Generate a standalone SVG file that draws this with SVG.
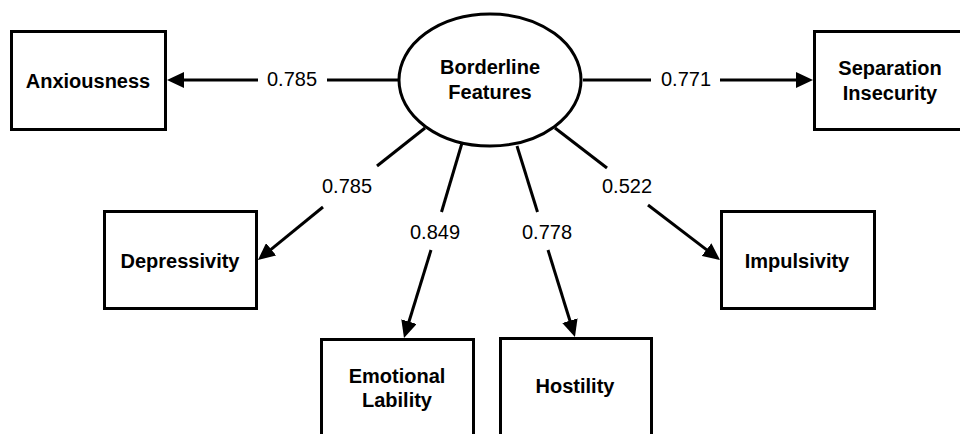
<svg xmlns="http://www.w3.org/2000/svg" width="960" height="434" viewBox="0 0 960 434">
<defs>
<style>
.box{fill:#fff;stroke:#000;stroke-width:3}
.lat{fill:#fff;stroke:#000;stroke-width:3}
.node{font-family:"Liberation Sans",Arial,sans-serif;font-weight:bold;font-size:20px;fill:#000;text-anchor:middle}
.lbl{font-family:"Liberation Sans",Arial,sans-serif;font-size:20px;fill:#000;text-anchor:middle}
.ln{stroke:#000;stroke-width:3;fill:none}
.arr{marker-end:url(#ah)}
</style>
<marker id="ah" markerUnits="userSpaceOnUse" markerWidth="17" markerHeight="16" refX="4" refY="8" orient="auto">
<path d="M0,0 L17,8 L0,16 z" fill="#000"/>
</marker>
</defs>
<rect width="960" height="434" fill="#fff"/>
<g id="connectors">
<line class="ln" x1="398" y1="80" x2="327" y2="80"/>
<line class="ln arr" x1="258" y1="80" x2="180" y2="80"/>
<line class="ln" x1="583" y1="80" x2="651" y2="80"/>
<line class="ln arr" x1="720" y1="80" x2="800" y2="80"/>
<line class="ln" x1="425" y1="128" x2="377" y2="166"/>
<line class="ln arr" x1="323" y1="207" x2="268" y2="251.8"/>
<line class="ln" x1="462" y1="143" x2="441.5" y2="212"/>
<line class="ln arr" x1="431" y1="250" x2="407.8" y2="325.5"/>
<line class="ln" x1="517" y1="146" x2="537.5" y2="212"/>
<line class="ln arr" x1="548" y1="250" x2="571.1" y2="324.5"/>
<line class="ln" x1="555" y1="128" x2="607" y2="168"/>
<line class="ln arr" x1="648" y1="205" x2="709.7" y2="252.1"/>
<text class="lbl" x="292" y="86">0.785</text>
<text class="lbl" x="686" y="86">0.771</text>
<text class="lbl" x="347" y="193">0.785</text>
<text class="lbl" x="627" y="193">0.522</text>
<text class="lbl" x="435" y="239">0.849</text>
<text class="lbl" x="547" y="239">0.778</text>
</g>
<g id="borderline">
<ellipse class="lat" cx="490" cy="80" rx="91" ry="66"/>
<text class="node" x="490" y="74">Borderline</text>
<text class="node" x="490" y="99">Features</text>
</g>
<g id="anxiousness">
<rect class="box" x="11.5" y="31.5" width="154" height="98"/>
<text class="node" x="88" y="88">Anxiousness</text>
</g>
<g id="separation">
<rect class="box" x="814.5" y="31.5" width="154" height="98"/>
<text class="node" x="890" y="75">Separation</text>
<text class="node" x="890" y="100">Insecurity</text>
</g>
<g id="depressivity">
<rect class="box" x="104.5" y="211.5" width="152" height="97"/>
<text class="node" x="180" y="268">Depressivity</text>
</g>
<g id="impulsivity">
<rect class="box" x="721.5" y="211.5" width="153" height="97"/>
<text class="node" x="797" y="268">Impulsivity</text>
</g>
<g id="emotional">
<rect class="box" x="321.5" y="339.5" width="152" height="100"/>
<text class="node" x="397" y="383">Emotional</text>
<text class="node" x="397" y="407">Lability</text>
</g>
<g id="hostility">
<rect class="box" x="500.5" y="338.5" width="151" height="100"/>
<text class="node" x="575" y="393">Hostility</text>
</g>
</svg>
